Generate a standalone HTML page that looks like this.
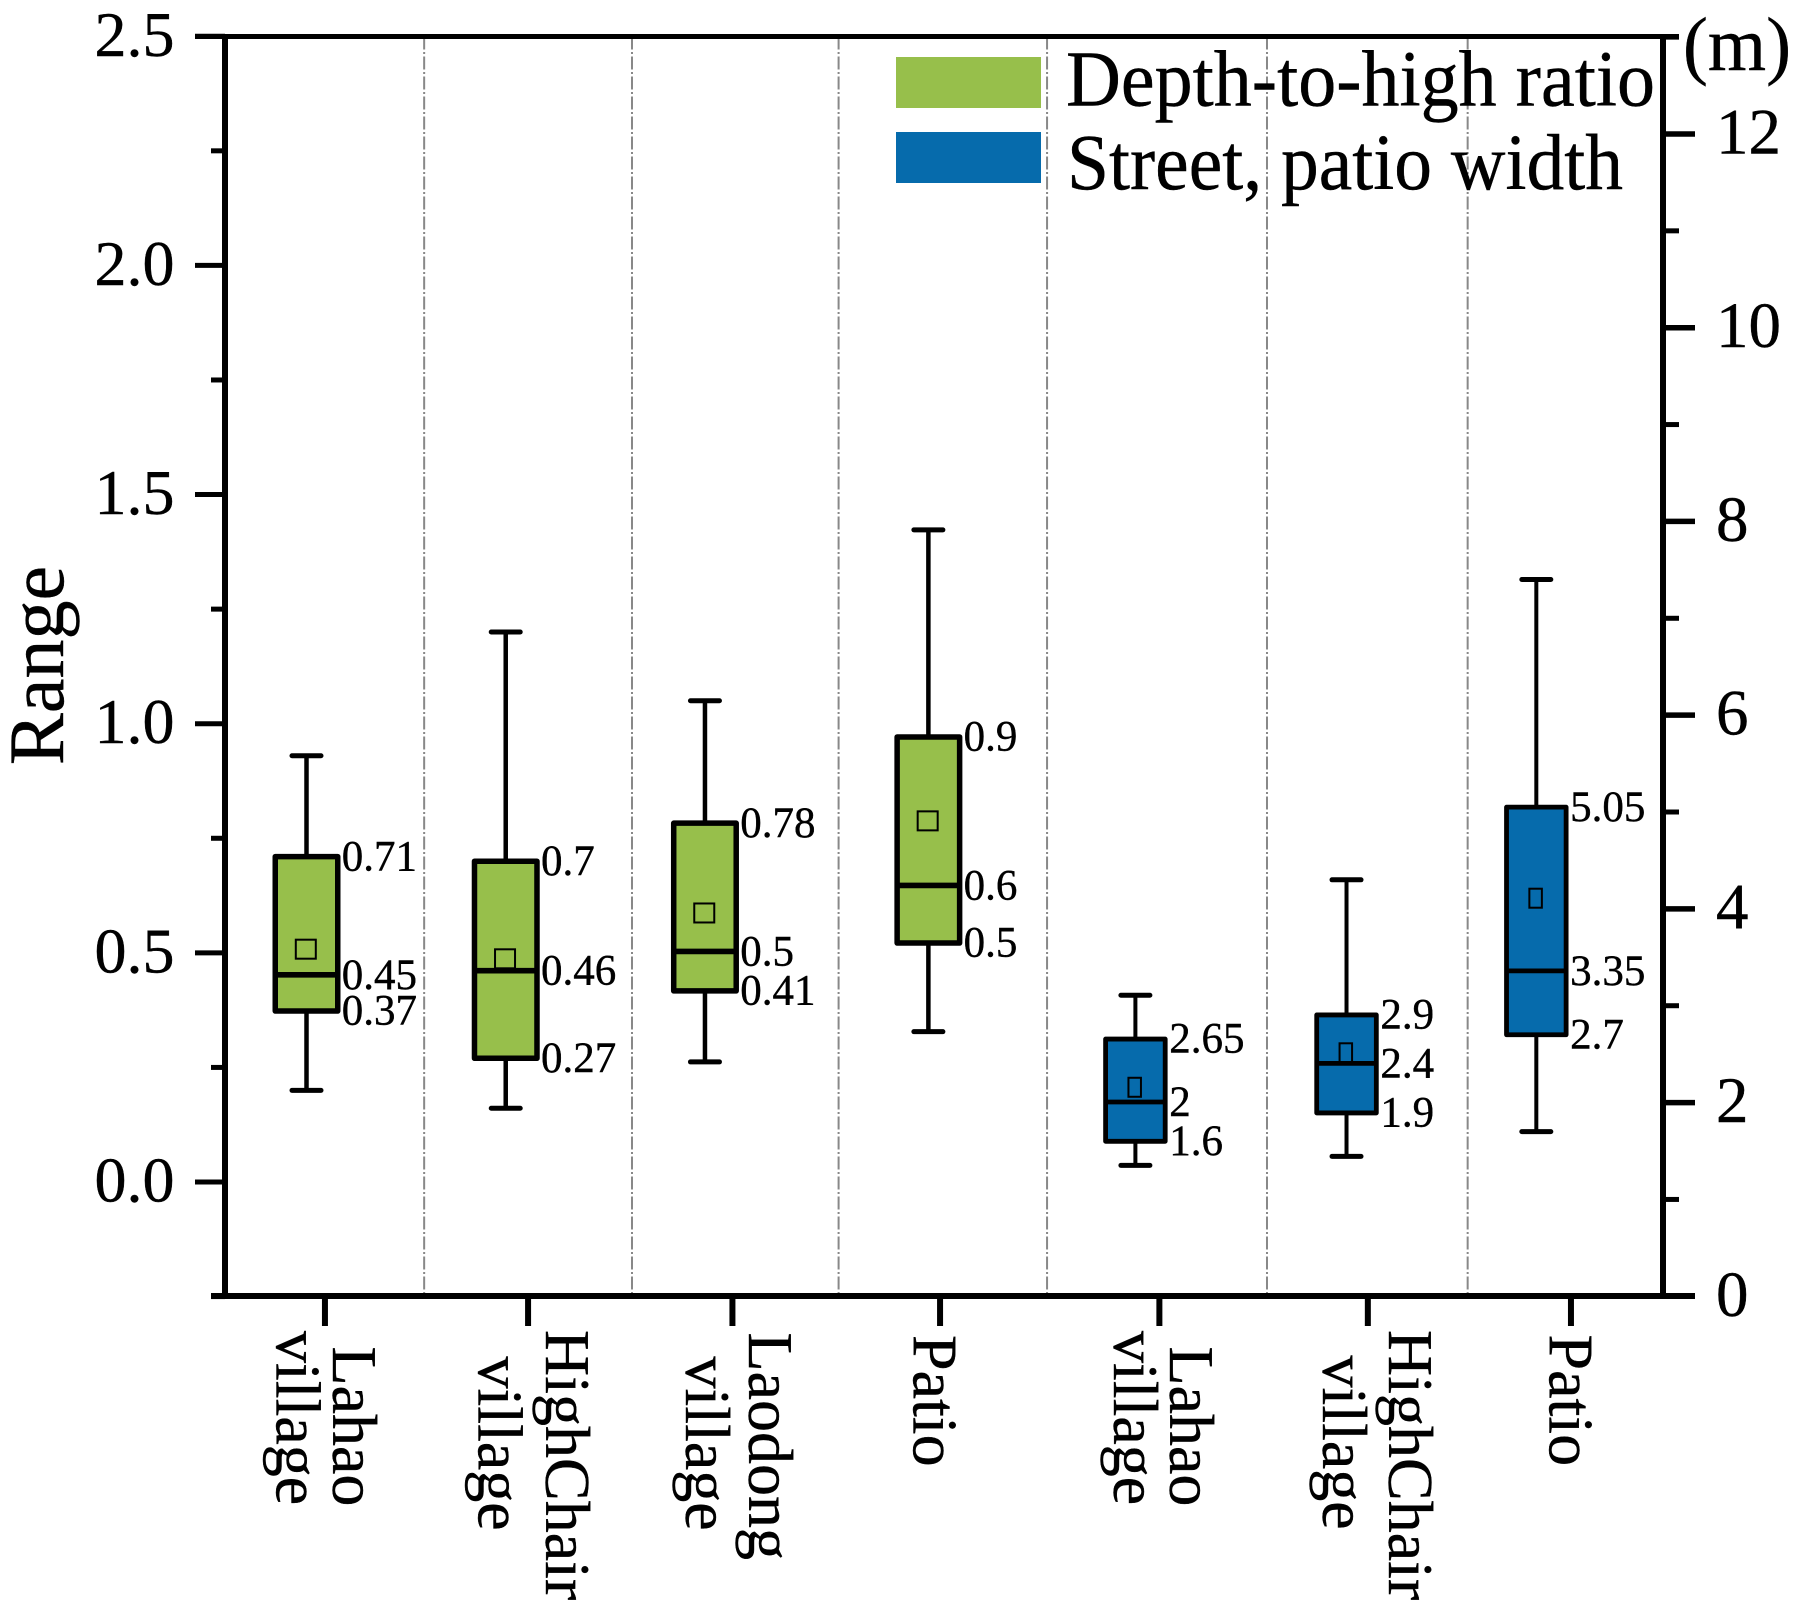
<!DOCTYPE html>
<html lang="en">
<head>
<meta charset="utf-8">
<title>Depth-to-high ratio and street, patio width</title>
<style>
  html, body { margin: 0; padding: 0; background: #fff; }
  svg { display: block; }
  text { font-family: "Liberation Serif", "Times New Roman", serif; fill: #000; stroke: #000; stroke-width: 0.4px; }
</style>
</head>
<body>
<svg id="chart" xmlns="http://www.w3.org/2000/svg" width="1803" height="1613" viewBox="0 0 1803 1613">
  <rect x="0" y="0" width="1803" height="1613" fill="#ffffff"/>
  <g id="separators"></g>
  <g id="boxes"></g>
  <g id="axes"></g>
  <g>
    <rect x="896" y="57" width="145" height="51" fill="#97BF4B"/>
    <rect x="896" y="132" width="145" height="51" fill="#066BAC"/>
    <text x="1066" y="105.5" font-size="79" textLength="589" lengthAdjust="spacingAndGlyphs">Depth-to-high ratio</text>
    <text x="1067" y="189" font-size="79" textLength="556" lengthAdjust="spacingAndGlyphs">Street, patio width</text>
  </g>
  <text transform="translate(63,665.5) rotate(-90)" font-size="78" text-anchor="middle">Range</text>
  <text x="1683" y="70" font-size="76" textLength="108" lengthAdjust="spacingAndGlyphs">(m)</text>
</svg>
<script>
// ---- data ----
const categories = [
  ["Lahao", "village"],
  ["HighChair", "village"],
  ["Laodong", "village"],
  ["Patio"],
  ["Lahao", "village"],
  ["HighChair", "village"],
  ["Patio"]
];
// which vertical axis each box belongs to
const seriesOfBox = ["ratio", "ratio", "ratio", "ratio", "width", "width", "width"];
// box locations along the category axis, in category units
const boxSlots = [1, 1.972, 2.944, 4.034, 5.044, 6.074, 7];
const tickSlots = [1.09, 2.081, 3.078, 4.091, 5.161, 6.178, 7.169];
const separatorSlots = [1.574, 2.588, 3.596, 4.613, 5.686, 6.665];

const whiskerHigh = [0.93, 1.20, 1.05, 1.423, 3.108, 4.30, 7.40];
const q3Values    = [0.71, 0.70, 0.783, 0.971, 2.656, 2.905, 5.05];
const medianValues= [0.452, 0.461, 0.503, 0.647, 2.006, 2.405, 3.36];
const q1Values    = [0.373, 0.27, 0.417, 0.5215, 1.60, 1.893, 2.70];
const whiskerLow  = [0.20, 0.161, 0.262, 0.328, 1.352, 1.445, 1.70];
const meanValues  = [0.508, 0.487, 0.587, 0.788, 2.158, 2.514, 4.11];

// printed value labels
const q3Labels     = ["0.71", "0.7", "0.78", "0.9", "2.65", "2.9", "5.05"];
const medianLabels = ["0.45", "0.46", "0.5", "0.6", "2", "2.4", "3.35"];
const q1Labels     = ["0.37", "0.27", "0.41", "0.5", "1.6", "1.9", "2.7"];

// tick values and labels
const leftTickValues = [0, 0.5, 1, 1.5, 2, 2.5];
const leftTickLabels = ["0.0", "0.5", "1.0", "1.5", "2.0", "2.5"];
const leftMinorTicks = [-0.25, 0.25, 0.75, 1.25, 1.75, 2.25];
const rightTickValues = [0, 2, 4, 6, 8, 10, 12];
const rightTickLabels = ["0", "2", "4", "6", "8", "10", "12"];
const rightMinorTicks = [1, 3, 5, 7, 9, 11, 13];

// ---- layout only (not data) ----
const categoryLabelPlacement = [
  [[8, 1346.5], [-48.5, 1331]],
  [[18, 1330], [-49.5, 1356.5]],
  [[16.5, 1332.5], [-46.5, 1356.5]],
  [[-26.5, 1335]],
  [[10.7, 1346.5], [-45.6, 1331]],
  [[21.3, 1330], [-45, 1355.5]],
  [[-21.7, 1334.5]]
];
const plot = { left: 225, right: 1663, top: 36.5, bottom: 1296 };
const seriesStyle = {
  ratio: { fill: "#97BF4B", boxW: 62.5, stroke: 5.5, whisker: 4.5, median: 5.6, meanW: 20, meanH: 19, labelGap: 4 },
  width: { fill: "#066BAC", boxW: 59.6, stroke: 4.8, whisker: 4, median: 4.8, meanW: 12.5, meanH: 19, labelGap: 4 }
};

// ---- axis functions ----
function yLeft(v)  { return 1182 - v * 458.3; }
function yRight(v) { return 1296.3 - v * 96.86; }
function xSlot(s)  { return 306.5 + (s - 1) * 204.97; }
function yFor(series, v) { return series === "ratio" ? yLeft(v) : yRight(v); }

const NS = "http://www.w3.org/2000/svg";
function mk(tag, parent, attrs) {
  const n = document.createElementNS(NS, tag);
  for (const k in attrs) n.setAttribute(k, attrs[k]);
  parent.appendChild(n);
  return n;
}
const gSep = document.getElementById("separators");
const gBox = document.getElementById("boxes");
const gAxes = document.getElementById("axes");
let el;

// separators
separatorSlots.forEach(function (s, i) {
  el = mk("line", gSep, { x1: xSlot(s), x2: xSlot(s), y1: plot.top, y2: plot.bottom, stroke: "#888888", "stroke-width": 2, "stroke-dasharray": "13 2.5 2 2.5" });
  
  
});

// boxes
categories.forEach(function (cat, i) {
  const series = seriesOfBox[i];
  const st = seriesStyle[series];
  const cx = xSlot(boxSlots[i]);
  const y = function (v) { return yFor(series, v); };
  const hw = st.boxW / 2;
  const id = cat[0].toLowerCase() + '-' + series;

  el = mk("line", gBox, { x1: cx, x2: cx, y1: y(whiskerHigh[i]), y2: y(q3Values[i]), stroke: "#000", "stroke-width": st.whisker });
  
  

  el = mk("line", gBox, { x1: cx, x2: cx, y1: y(q1Values[i]), y2: y(whiskerLow[i]), stroke: "#000", "stroke-width": st.whisker });
  
  

  el = mk("line", gBox, { x1: cx - 14.5, x2: cx + 14.5, y1: y(whiskerHigh[i]), y2: y(whiskerHigh[i]), stroke: "#000", "stroke-width": 5, "stroke-linecap": "round" });
  
  

  el = mk("line", gBox, { x1: cx - 14.5, x2: cx + 14.5, y1: y(whiskerLow[i]), y2: y(whiskerLow[i]), stroke: "#000", "stroke-width": 5, "stroke-linecap": "round" });
  
  

  el = mk("rect", gBox, { x: cx - hw, y: y(q3Values[i]), width: st.boxW, height: y(q1Values[i]) - y(q3Values[i]), fill: st.fill, stroke: "#000", "stroke-width": st.stroke, "stroke-linejoin": "round" });
  
  

  el = mk("line", gBox, { x1: cx - hw, x2: cx + hw, y1: y(medianValues[i]), y2: y(medianValues[i]), stroke: "#000", "stroke-width": st.median });
  
  

  el = mk("rect", gBox, { x: cx - 0.7 - st.meanW / 2, y: y(meanValues[i]) - st.meanH / 2, width: st.meanW, height: st.meanH, fill: "none", stroke: "#000", "stroke-width": 2 });
  
  

  const lx = cx + hw + st.labelGap;
  el = mk("text", gBox, { x: lx, y: y(q3Values[i]) + 13.7, "font-size": 43 });
  el.textContent = q3Labels[i];
  
  

  el = mk("text", gBox, { x: lx, y: y(medianValues[i]) + 14, "font-size": 43 });
  el.textContent = medianLabels[i];
  
  

  el = mk("text", gBox, { x: lx, y: y(q1Values[i]) + 13.5, "font-size": 43 });
  el.textContent = q1Labels[i];
  
  
});

// axis frame
el = mk("line", gAxes, { x1: plot.left, x2: plot.left, y1: plot.top - 2.5, y2: plot.bottom + 3, stroke: "#000", "stroke-width": 6 });



el = mk("line", gAxes, { x1: plot.right, x2: plot.right, y1: plot.top - 2.5, y2: plot.bottom + 3, stroke: "#000", "stroke-width": 6 });



el = mk("line", gAxes, { x1: 195, x2: 1679, y1: plot.top, y2: plot.top, stroke: "#000", "stroke-width": 5 });



el = mk("line", gAxes, { x1: 211, x2: 1695, y1: plot.bottom, y2: plot.bottom, stroke: "#000", "stroke-width": 6 });



// left ticks
leftTickValues.forEach(function (v, i) {
  el = mk("line", gAxes, { x1: 195, x2: plot.left, y1: yLeft(v), y2: yLeft(v), stroke: "#000", "stroke-width": 5 });
  
  

  el = mk("text", gAxes, { x: 174.5, y: yLeft(v) + 19.5, "font-size": 64, "text-anchor": "end" });
  el.textContent = leftTickLabels[i];
  
  
});
leftMinorTicks.forEach(function (v) {
  el = mk("line", gAxes, { x1: 211, x2: plot.left, y1: yLeft(v), y2: yLeft(v), stroke: "#000", "stroke-width": 5 });
  
  
});

// right ticks
rightTickValues.forEach(function (v, i) {
  el = mk("line", gAxes, { x1: plot.right, x2: 1695, y1: yRight(v), y2: yRight(v), stroke: "#000", "stroke-width": 5.5 });
  
  

  el = mk("text", gAxes, { x: 1716, y: yRight(v) + 19.5, "font-size": 65 });
  el.textContent = rightTickLabels[i];
  
  
});
rightMinorTicks.forEach(function (v) {
  el = mk("line", gAxes, { x1: plot.right, x2: 1679, y1: yRight(v), y2: yRight(v), stroke: "#000", "stroke-width": 5 });
  
  
});

// category ticks and labels
tickSlots.forEach(function (s, i) {
  const tx = xSlot(s);
  el = mk("line", gAxes, { x1: tx, x2: tx, y1: plot.bottom, y2: 1326, stroke: "#000", "stroke-width": 6 });
  
  

  categories[i].forEach(function (line, j) {
    const place = categoryLabelPlacement[i][j];
    el = mk("text", gAxes, { transform: "translate(" + (tx + place[0]) + "," + place[1] + ") rotate(90)", "font-size": 64 });
    el.textContent = line;
    
    
  });
});
</script>
</body>
</html>
